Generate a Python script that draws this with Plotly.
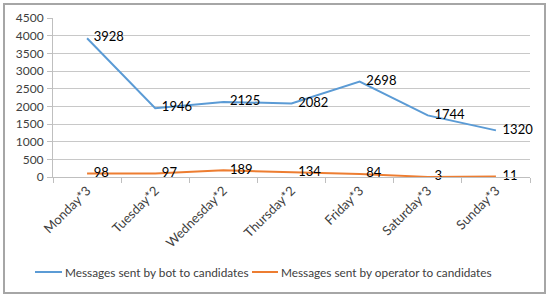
import plotly.graph_objects as go

days = ["Monday*3", "Tuesday*2", "Wednesday*2", "Thursday*2", "Friday*3", "Saturday*3", "Sunday*3"]
bot_msgs = [3928, 1946, 2125, 2082, 2698, 1744, 1320]
operator_msgs = [98, 97, 189, 134, 84, 3, 11]
y_ticks = list(range(0, 4501, 500))
series_names = ["Messages sent by bot to candidates", "Messages sent by operator to candidates"]

FONT = "Lato"
BLUE = "#5B9BD5"
ORANGE = "#ED7D31"

L, T, W, H = 53, 18, 477, 159


def px(x):
    return (x - L) / W


def py(y):
    return (T + H - y) / H


fig = go.Figure()
fig.add_trace(go.Scatter(
    x=days, y=bot_msgs, mode="lines+text", name=series_names[0],
    line=dict(color=BLUE, width=2), text=["  " + str(v) for v in bot_msgs],
    textposition="middle right", textfont=dict(family=FONT, size=13, color="#000000"),
    cliponaxis=False, hoverinfo="skip"))
fig.add_trace(go.Scatter(
    x=days, y=operator_msgs, mode="lines+text", name=series_names[1],
    line=dict(color=ORANGE, width=2), text=["  " + str(v) for v in operator_msgs],
    textposition="middle right", textfont=dict(family=FONT, size=13, color="#000000"),
    cliponaxis=False, hoverinfo="skip"))

shapes = [dict(type="rect", xref="paper", yref="paper",
               x0=px(4), x1=px(545), y0=py(293), y1=py(4),
               line=dict(color="#A6A6A6", width=2), fillcolor="rgba(0,0,0,0)")]
annotations = []
legend_items = [(35, 62, series_names[0], BLUE), (252, 278, series_names[1], ORANGE)]
for x0, x1, name, col in legend_items:
    shapes.append(dict(type="line", xref="paper", yref="paper",
                       x0=px(x0), x1=px(x1), y0=py(272), y1=py(272),
                       line=dict(color=col, width=2)))
    annotations.append(dict(xref="paper", yref="paper", x=px(x1 + 1), y=py(272),
                            xanchor="left", yanchor="middle", showarrow=False,
                            text=name, font=dict(family=FONT, size=11.8, color="#404040")))

fig.update_layout(
    width=550, height=298,
    margin=dict(l=L, r=550 - L - W, t=T, b=298 - T - H),
    paper_bgcolor="white", plot_bgcolor="white",
    font=dict(family=FONT, size=13, color="#404040"),
    showlegend=False,
    xaxis=dict(type="category", range=[-0.5, 6.5], tickangle=-45, showgrid=False,
               ticks="outside", tickson="boundaries", ticklen=5, tickcolor="#BFBFBF",
               showline=True, linecolor="#BFBFBF", linewidth=1, automargin=False,
               tickfont=dict(family=FONT, size=13, color="#404040")),
    yaxis=dict(range=[0, 4500], tickvals=y_ticks, showgrid=True, gridcolor="#C8C8C8",
               gridwidth=1, zeroline=False, showline=True, linecolor="#BFBFBF", linewidth=1,
               ticks="outside", ticklen=5, tickcolor="#BFBFBF", automargin=False,
               ticklabelstandoff=1,
               tickfont=dict(family=FONT, size=12, color="#404040")),
    shapes=shapes,
    annotations=annotations,
)

fig.write_html("out.html", config={"displayModeBar": False},
               post_script="document.body.style.margin='0';")
